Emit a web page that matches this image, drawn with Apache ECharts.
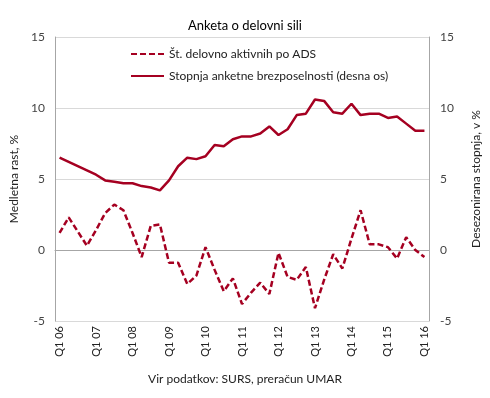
<!DOCTYPE html>
<html lang="sl">
<head>
    <meta charset="UTF-8">
    <title>Anketa o delovni sili</title>
    <script type="text/javascript" src="https://cdn.jsdelivr.net/npm/echarts@6/dist/echarts.min.js"></script>
    <style>
        body { margin: 0; background: #fff; }
    </style>
</head>
<body>
    <div id="main" style="width: 490px; height: 398px"></div>
    <script type="text/javascript">
        // quarters Q1 06 .. Q1 16
        var quarters = [];
        for (var y = 6; y <= 16; y++) {
            for (var q = 1; q <= 4; q++) {
                if (y === 16 && q > 1) break;
                quarters.push('Q' + q + ' ' + (y < 10 ? '0' + y : y));
            }
        }

        // Št. delovno aktivnih po ADS, medletna rast (%)
        var employed = [1.2, 2.3, 1.3, 0.3, 1.4, 2.6, 3.2, 2.8, 1.2, -0.5,
            1.7, 1.8, -0.9, -0.9, -2.4, -1.8, 0.2, -1.4, -2.9, -2.0,
            -3.8, -3.0, -2.3, -3.1, -0.2, -1.9, -2.1, -1.2, -4.1, -2.1,
            -0.3, -1.3, 0.8, 2.8, 0.4, 0.4, 0.2, -0.6, 0.9, 0.0, -0.5];

        // Stopnja anketne brezposelnosti, desezonirana (%)
        var unemployment = [6.5, 6.2, 5.9, 5.6, 5.3, 4.9, 4.8, 4.7, 4.7, 4.5,
            4.4, 4.2, 4.9, 5.9, 6.5, 6.4, 6.6, 7.4, 7.3, 7.8,
            8.0, 8.0, 8.2, 8.7, 8.1, 8.5, 9.5, 9.6, 10.6, 10.5,
            9.7, 9.6, 10.3, 9.5, 9.6, 9.6, 9.3, 9.4, 8.9, 8.4, 8.4];

        var font = 'Lato, "Open Sans", sans-serif';
        var red = '#a50021';

        var myChart = echarts.init(document.getElementById('main'));

        option = {
            textStyle: { fontFamily: font },
            animation: false,
            title: [{
                text: 'Anketa o delovni sili',
                left: 'center',
                top: 14,
                textStyle: { fontSize: 13, fontWeight: 'normal', color: '#000', fontFamily: font }
            }, {
                text: 'Vir podatkov: SURS, preračun UMAR',
                left: 'center',
                top: 368,
                textStyle: { fontSize: 12, fontWeight: 'normal', color: '#222', fontFamily: font }
            }],
            legend: {
                orient: 'vertical',
                left: 125,
                top: 43,
                itemWidth: 33,
                itemHeight: 14,
                itemGap: 10,
                itemStyle: { opacity: 0 },
                textStyle: { fontSize: 12, color: '#222', fontFamily: font },
                data: ['Št. delovno aktivnih po ADS', 'Stopnja anketne brezposelnosti (desna os)']
            },
            grid: { left: 52, right: 56, top: 37, bottom: 77 },
            xAxis: {
                type: 'category',
                data: quarters,
                boundaryGap: true,
                axisLine: { lineStyle: { color: '#a6a6a6' } },
                axisTick: { show: false },
                axisLabel: {
                    interval: 3,
                    rotate: 90,
                    margin: 5,
                    fontSize: 11,
                    color: '#222',
                    fontFamily: font
                }
            },
            yAxis: [{
                type: 'value',
                min: -5,
                max: 15,
                interval: 5,
                name: 'Medletna rast, %',
                nameLocation: 'middle',
                nameGap: 35,
                nameTextStyle: { fontSize: 12, color: '#222', fontFamily: font },
                axisLine: { show: true, lineStyle: { color: '#a6a6a6' } },
                axisTick: { show: false },
                axisLabel: { fontSize: 12, color: '#444', margin: 10, fontFamily: font },
                splitLine: { lineStyle: { color: '#d9d9d9' } }
            }, {
                type: 'value',
                min: -5,
                max: 15,
                interval: 5,
                position: 'right',
                name: 'Desezonirana stopnja, v %',
                nameLocation: 'middle',
                nameGap: 41,
                nameTextStyle: { fontSize: 12, color: '#222', fontFamily: font },
                axisLine: { show: true, lineStyle: { color: '#a6a6a6' } },
                axisTick: { show: false },
                axisLabel: { fontSize: 12, color: '#444', margin: 11, fontFamily: font },
                splitLine: { show: false }
            }],
            series: [{
                name: 'Št. delovno aktivnih po ADS',
                type: 'line',
                yAxisIndex: 0,
                data: employed,
                symbol: 'none',
                lineStyle: { color: red, width: 2.5, type: [6, 3] },
                itemStyle: { color: red }
            }, {
                name: 'Stopnja anketne brezposelnosti (desna os)',
                type: 'line',
                yAxisIndex: 1,
                data: unemployment,
                symbol: 'none',
                lineStyle: { color: red, width: 2.5 },
                itemStyle: { color: red }
            }]
        };

        myChart.setOption(option);
    </script>
</body>
</html>
